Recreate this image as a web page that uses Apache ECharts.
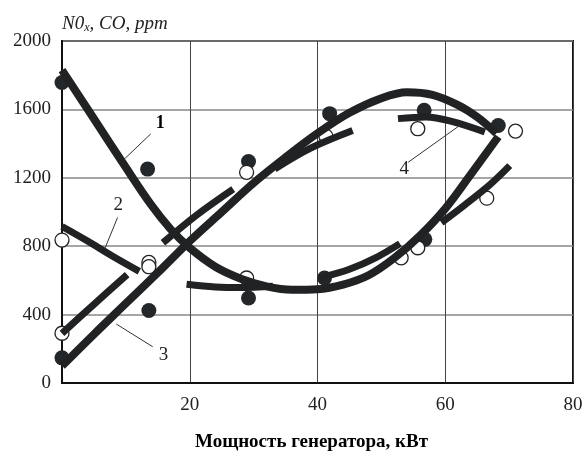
<!DOCTYPE html>
<html><head><meta charset="utf-8">
<script src="https://cdn.jsdelivr.net/npm/echarts@6/dist/echarts.min.js"></script>
<style>html,body{margin:0;padding:0;background:#fff}#c{width:582px;height:452px}</style>
</head><body><div id="c"></div>
<script>
// x ticks / y ticks
const xTicks = [0, 20, 40, 60, 80];
const yTicks = [0, 400, 800, 1200, 1600, 2000];
// measured points (filled circles)
const filledPts = [[0,1757],[13.4,1251],[13.6,424],[0,147],[29.2,1295],[29.2,497],[41.9,1575],[41.1,614],[56.7,1595],[56.8,840],[68.3,1506]];
// measured points (open circles)
const openPts = [[0,836],[13.6,705],[13.6,680],[0,291],[28.9,1232],[28.9,614],[41.3,1444],[55.7,1487],[55.7,791],[53.1,732],[71,1473],[66.5,1081]];
// curve 1 (solid)
const curve1 = [[0,1830],[5,1545],[10,1260],[14,1040],[17,900],[20,790],[24,680],[28,610],[32,565],[36,545],[40,548],[44,575],[48,630],[52,730],[56,860],[60,1020],[64,1220],[68.3,1440]];
// curve 3 (solid)
const curve3 = [[0,100],[5,285],[10,465],[15,645],[20,830],[25,1000],[30,1170],[35,1320],[40,1460],[45,1580],[50,1665],[54,1700],[58,1685],[62,1625],[65,1555],[68,1460]];
// curve 2 (broken segments; '-' = gap)
const curve2 = [[0,915],[4,830],[8,740],[12.1,653],[15,'-'],[19.5,578],[24,562],[28,558],[33,566],[36,'-'],[40.3,614],[45,665],[49,730],[52.9,815],[56,'-'],[59.4,938],[63,1040],[67,1160],[70.1,1271]];
// curve 4 (broken segments)
const curve4 = [[0,290],[5,460],[10.2,634],[13,'-'],[15.8,820],[21,980],[26.8,1134],[30,'-'],[33.3,1252],[39,1375],[45.5,1477],[49,'-'],[52.6,1546],[57,1556],[61,1530],[66.2,1468]];
// leader lines
const leaders = [[9.8,1311],[13.9,1457],[15,'-'],[6.7,785],[8.7,968],[10,'-'],[8.5,345],[14.2,212],[30,'-'],[54.2,1291],[62.3,1507]];
// label names and positions
const labelNames = ['1','2','3','4'];
const labelPos = [[15.4,1520],[8.8,1040],[15.9,165],[53.6,1252]];

const FONT = 'Liberation Serif';
const INK = '#202224';
const chart = echarts.init(document.getElementById('c'), null, {renderer:'canvas'});
const thick = (name, data, w) => ({
  name, type:'line', data, smooth:0.35, showSymbol:false, symbol:'none', z:5,
  connectNulls:false, lineStyle:{color:INK, width:w, cap:'butt', join:'round'}, animation:false
});
chart.setOption({
  animation:false,
  grid:{left:62, right:9, top:41, bottom:69, show:true, borderColor:'#111', borderWidth:2,
    containLabel:false, outerBoundsMode:'none'},
  xAxis:{type:'value', min:xTicks[0], max:xTicks[xTicks.length-1], interval:20,
    name:'Мощность генератора, кВт', nameLocation:'middle', nameGap:50,
    nameTextStyle:{fontFamily:FONT, fontWeight:'bold', fontSize:19, color:'#000', padding:[0,12,0,0]},
    axisLine:{show:true, lineStyle:{color:'#111', width:2}}, axisTick:{show:false},
    axisLabel:{showMinLabel:false, fontFamily:FONT, fontSize:19, color:'#222', margin:13},
    splitLine:{show:true, lineStyle:{color:'#444', width:1}}},
  yAxis:{type:'value', min:yTicks[0], max:yTicks[yTicks.length-1], interval:400,
    name:'{a|N0}{s|x}{a|, CO, ppm}', nameLocation:'end', nameGap:7,
    nameTextStyle:{align:'left', rich:{
      a:{fontFamily:FONT, fontStyle:'italic', fontSize:19, color:'#222'},
      s:{fontFamily:FONT, fontStyle:'italic', fontSize:12, color:'#222', padding:[8,0,0,0]}}},
    axisLine:{show:true, lineStyle:{color:'#111', width:2}}, axisTick:{show:false},
    axisLabel:{formatter:v=>String(v), fontFamily:FONT, fontSize:19, color:'#222', margin:11, padding:[6,0,0,0]},
    splitLine:{show:true, lineStyle:{color:'#888', width:1.5}}},
  series:[
    {type:'scatter', data:filledPts, symbol:'circle', symbolSize:15, z:3,
      itemStyle:{color:'#24272a', opacity:1}, clip:false},
    {type:'scatter', data:openPts, symbol:'circle', symbolSize:14, z:3,
      itemStyle:{color:'#fff', borderColor:'#222', borderWidth:1.3, opacity:1}, clip:false},
    thick('1', curve1, 8),
    thick('3', curve3, 8),
    thick('2', curve2, 7),
    thick('4', curve4, 7),
    {type:'line', data:leaders, smooth:false, symbol:'none', connectNulls:false, z:6,
      lineStyle:{color:'#333', width:1}},
    {type:'scatter', symbol:'circle', symbolSize:1, z:7, silent:true,
      itemStyle:{color:'rgba(0,0,0,0)', opacity:1},
      data:labelPos.map((p,i)=>({value:p, name:labelNames[i],
        label: i===0 ? {fontWeight:'bold', fontSize:18, color:'#000'} : {}})),
      label:{show:true, position:'inside', formatter:p=>p.name, fontFamily:FONT, fontSize:19, color:'#222'}}
  ]
});
</script></body></html>
